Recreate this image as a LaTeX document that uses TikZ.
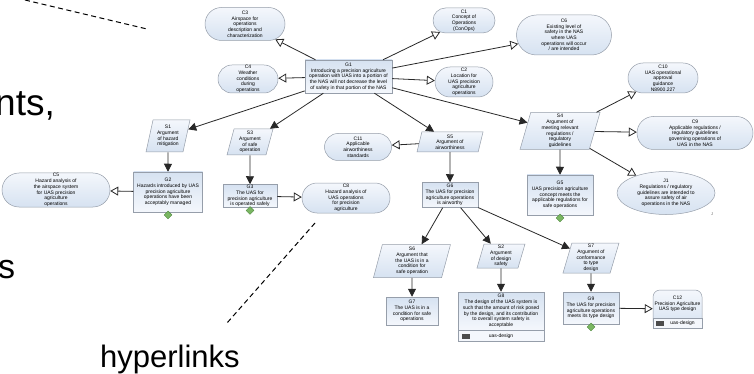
\documentclass[tikz,border=0pt]{standalone}
\usepackage{fontspec}
\setmainfont{Liberation Sans}
\usetikzlibrary{shapes.geometric,shapes.misc,arrows.meta}

\definecolor{ctxfill}{RGB}{214,226,241}
\definecolor{ctxtop}{RGB}{244,247,252}
\definecolor{edgegray}{RGB}{150,158,170}
\definecolor{okgreen}{RGB}{122,182,98}
\definecolor{okgreendark}{RGB}{82,140,66}
\definecolor{inkline}{RGB}{40,40,40}

\tikzset{
  gsn/.style={font=\fontsize{5}{5.7}\selectfont, align=center, inner sep=0pt,
    draw=edgegray, line width=0.5pt, text=black},
  goal/.style={gsn, rectangle, top color=ctxfill, bottom color=ctxtop},
  context/.style={gsn, rounded rectangle, top color=ctxtop, bottom color=ctxfill},
  strategy/.style={gsn, trapezium, trapezium left angle=72, trapezium right angle=108,
    trapezium stretches body, top color=ctxtop, bottom color=ctxfill},
  justif/.style={gsn, ellipse, top color=ctxtop, bottom color=ctxfill},
  undeveloped/.style={diamond, inner sep=0pt, minimum width=8, minimum height=8,
    fill=okgreen, draw=okgreendark, line width=0.4pt},
  modulebar/.style={rectangle, draw=edgegray, line width=0.5pt, fill=ctxtop,
    inner sep=0pt, font=\fontsize{5}{6}\selectfont},
  foldericon/.style={rectangle, fill=black!70, inner sep=0pt, minimum width=8, minimum height=5},
  solved/.style={draw=inkline, line width=0.8pt, -{Triangle[length=8pt,width=8pt]}},
  incontext/.style={draw=inkline, line width=0.8pt, -{Triangle[open,length=8pt,width=9pt,fill=white]}},
  callout/.style={draw=black, line width=1pt, dash pattern=on 5pt off 3.5pt},
  slidetext/.style={font=\fontsize{34}{40}\selectfont, inner sep=0pt, anchor=base west}
}

\begin{document}
\begin{tikzpicture}[x=1pt,y=-1pt]
\useasboundingbox (0,0) rectangle (754,374);
\fill[white] (0,0) rectangle (754,374);

% slide text around the argument diagram
\node[slidetext, font=\fontsize{37}{42}\selectfont] (word1) at (-5,116) {nts,};
\node[slidetext] (word2) at (-2,278) {s};
\node[slidetext, font=\fontsize{31}{36}\selectfont] (word3) at (100,367) {hyperlinks};

% top goal and its context
\node[goal, minimum width=87, minimum height=33] (G1) at (348.5,76.5)
  {G1\\Introducing a precision agriculture\\operation with UAS into a portion of\\the NAS will not decrease the level\\of safety in that portion of the NAS};
\node[context, minimum width=80, minimum height=33] (C3) at (245,24)
  {C3\\Airspace for\\operations\\description and\\characterization};
\node[context, minimum width=60, minimum height=28] (C4) at (248,79)
  {C4\\Weather\\conditions\\during\\operations};
\node[context, minimum width=62, minimum height=25] (C1) at (464,20.5)
  {C1\\Concept of\\Operations\\(ConOps)};
\node[context, minimum width=95, minimum height=40] (C6) at (564,35)
  {C6\\Existing level of\\safety in the NAS\\where UAS\\operations will occur\\/ are intended};
\node[context, minimum width=58, minimum height=30] (C2) at (464,82)
  {C2\\Location for\\UAS precision\\agriculture\\operations};

% hazard mitigation branch
\node[strategy, minimum width=44, minimum height=32] (S1) at (168,136)
  {S1\\Argument\\of hazard\\mitigation};
\node[goal, minimum width=69, minimum height=40] (G2) at (168,192)
  {G2\\Hazards introduced by UAS\\precision agriculture\\operations have been\\acceptably managed};
\node[context, minimum width=108, minimum height=34] (C5) at (56,190)
  {C5\\Hazard analysis of\\the airspace system\\for UAS precision\\agriculture\\operations};
\node[undeveloped, anchor=north] (U2) at ([yshift=1.5]G2.south) {};

% safe operation branch
\node[strategy, minimum width=46, minimum height=26] (S3) at (250,142)
  {S3\\Argument\\of safe\\operation};
\node[goal, minimum width=54, minimum height=23] (G3) at (250,196)
  {G3\\The UAS for\\precision agriculture\\is operated safely};
\node[context, minimum width=88, minimum height=30] (C8) at (346,198)
  {C8\\Hazard analysis of\\UAS operations\\for precision\\agriculture};
\node[undeveloped, anchor=north] (U3) at ([yshift=1.5]G3.south) {};

% airworthiness branch
\node[strategy, minimum width=66, minimum height=20] (S5) at (450,142)
  {S5\\Argument of\\airworthiness};
\node[context, minimum width=67, minimum height=27] (C11) at (358,147)
  {C11\\Applicable\\airworthiness\\standards};
\node[goal, minimum width=56, minimum height=25] (G6) at (450,195)
  {G6\\The UAS for precision\\agriculture operations\\is airworthy};

\node[strategy, minimum width=77, minimum height=33] (S6) at (412,261)
  {S6\\Argument that\\the UAS is in a\\condition for\\safe operation};
\node[goal, minimum width=52, minimum height=28] (G7) at (412,311)
  {G7\\The UAS is in a\\condition for safe\\operations};

\node[strategy, minimum width=48, minimum height=24] (S2) at (501,256)
  {S2\\Argument\\of design\\safety};
\node[goal, minimum width=86, minimum height=38] (G8) at (501,311)
  {G8\\The design of the UAS system is\\such that the amount of risk posed\\by the design, and its contribution\\to overall system safety is\\acceptable};
\node[modulebar, minimum width=86, minimum height=11, anchor=north] (G8bar) at (G8.south) {uas-design};
\node[foldericon] (G8icon) at ([xshift=8]G8bar.west) {};

\node[strategy, minimum width=56, minimum height=30] (S7) at (591,258)
  {S7\\Argument of\\conformance\\to type\\design};
\node[goal, minimum width=56, minimum height=32] (G9) at (591,308)
  {G9\\The UAS for precision\\agriculture operations\\meets its type design};
\node[undeveloped, anchor=north] (U9) at ([yshift=1.5]G9.south) {};
\node[gsn, rectangle, rounded corners=7, top color=ctxtop, bottom color=ctxfill,
  minimum width=49, minimum height=38] (C12) at (677.5,309)
  {\begin{tabular}{@{}c@{}}C12\\Precision Agriculture\\UAS type design\\[10pt]\end{tabular}};
\node[modulebar, minimum width=49, minimum height=10, anchor=south] (C12bar) at (C12.south)
  {\hspace*{10pt}uas-design};
\node[foldericon] (C12icon) at ([xshift=7]C12bar.west) {};

% regulations branch
\node[strategy, minimum width=80, minimum height=37] (S4) at (560,131)
  {S4\\Argument of\\meeting relevant\\regulations /\\regulatory\\guidelines};
\node[goal, minimum width=66, minimum height=40] (G5) at (560,195)
  {G5\\UAS precision agriculture\\concept meets the\\applicable regulations for\\safe operations};
\node[undeveloped, anchor=north] (U5) at ([yshift=1.5]G5.south) {};
\node[context, minimum width=70, minimum height=30] (C10) at (663,78)
  {C10\\UAS operational\\approval\\guidance\\N8900.227};
\node[context, minimum width=116, minimum height=33] (C9) at (695,133)
  {C9\\Applicable regulations /\\regulatory guidelines\\governing operations of\\UAS in the NAS};
\node[justif, minimum width=98, minimum height=43] (J1) at (666,193)
  {J1\\Regulations / regulatory\\guidelines are intended to\\assure safety of air\\operations in the NAS};
\node[font=\fontsize{4}{4}\selectfont, text=black!60, inner sep=0pt] (J1mark) at (712,214) {J};

% in-context-of links
\draw[incontext] (G1) -- (C3);
\draw[incontext] (G1) -- (C4);
\draw[incontext] (G1) -- (C1);
\draw[incontext] (G1) -- (C6);
\draw[incontext] (G1) -- (C2);
\draw[incontext] (G2) -- (C5);
\draw[incontext] (G3) -- (C8);
\draw[incontext] (S5) -- (C11);
\draw[incontext] (S4) -- (C10);
\draw[incontext] (S4) -- (C9);
\draw[incontext] (S4) -- (J1);
\draw[incontext] (G9) -- (C12);

% supported-by links
\draw[solved] (G1) -- (S1);
\draw[solved] (G1) -- (S3);
\draw[solved] (G1) -- (S5);
\draw[solved] (G1) -- (S4);
\draw[solved] (S1) -- (G2);
\draw[solved] (S3) -- (G3);
\draw[solved] (S5) -- (G6);
\draw[solved] (S4) -- (G5);
\draw[solved] (G6) -- (S6);
\draw[solved] (G6) -- (S2);
\draw[solved] (G6) -- (S7);
\draw[solved] (S6) -- (G7);
\draw[solved] (S2) -- (G8);
\draw[solved] (S7) -- (G9);

% hyperlink callouts
\coordinate (h1a) at (25,0);
\coordinate (h1b) at (147,29);
\coordinate (h2a) at (315,223);
\coordinate (h2b) at (227,323);
\draw[callout] (h1a) -- (h1b);
\draw[callout] (h2a) -- (h2b);
\end{tikzpicture}
\end{document}
